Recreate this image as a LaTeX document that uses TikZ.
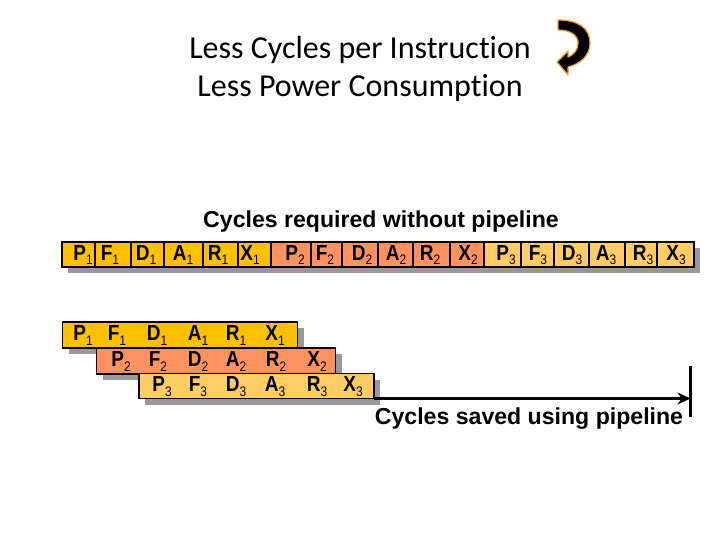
\documentclass[tikz,border=0pt]{standalone}
\usepackage{fontspec}
\setmainfont{Liberation Sans}
\newfontfamily\titlefont[Ligatures=NoCommon]{Carlito}
\usetikzlibrary{arrows.meta, positioning, calc, shadows}
\definecolor{stageone}{RGB}{255, 192, 0}
\definecolor{stagetwo}{RGB}{255, 146, 94}
\definecolor{stagethree}{RGB}{255, 204, 102}
\definecolor{shadowgray}{RGB}{153, 153, 153}
\definecolor{arroworange}{RGB}{240, 160, 40}
\newcommand{\stagelabel}[2]{#1\raisebox{-4pt}{\fontsize{12}{12}\selectfont\mdseries #2}}
\tikzset{
    titletext/.style={font=\titlefont\fontsize{32}{36}\selectfont, inner sep=0pt},
    headtext/.style={font=\bfseries\fontsize{23.1}{27}\selectfont, inner sep=0pt},
    stagetext/.style={font=\bfseries\fontsize{19}{21}\selectfont, inner sep=0pt, yscale=1.15},
    rowbox/.style={rectangle, draw=black, line width=1.6pt, inner sep=0pt, outer sep=0pt, anchor=north west, drop shadow={shadow xshift=6pt, shadow yshift=-6pt, fill=shadowgray, opacity=1}},
    cellbox/.style={draw=black, line width=1.6pt},
    line/.style={draw, -{Stealth[length=13pt, width=12pt]}, black, line width=2.2pt}
}
\begin{document}
\begin{tikzpicture}[x=1pt, y=-1pt]
    \useasboundingbox (0,0) rectangle (720,540);
    % Title and turn arrow
    \node[titletext] (titleone) at (360,49.5) {Less Cycles per Instruction};
    \node[titletext] (titletwo) at (360,88.5) {Less Power Consumption};
    \draw[fill=black, draw=arroworange, line width=1.2pt, line join=round] (558,20) .. controls (578,20) and (590,28) .. (590,43) .. controls (590,56) and (580,64) .. (568,67) -- (568,75) -- (557,62) -- (568,51) -- (568,57) .. controls (575,54) and (578,49) .. (578,43) .. controls (578,35) and (570,30) .. (558,30) -- cycle;
    
    % Sequential execution
    \node[headtext] (headtop) at (381,222) {Cycles required without pipeline};
    \node[rowbox, minimum width=632pt, minimum height=25pt, fill=stageone] (rowall) at (62,242) {};
    \foreach \nm/\sb/\lft/\rgt/\mid/\col in {
        P/1/62/95/83/stageone, F/1/95/131/110/stageone, D/1/131/164/146/stageone, A/1/164/203/183/stageone, R/1/203/238/218/stageone, X/1/238/271/250/stageone,
        P/2/271/311/295/stagetwo, F/2/311/342/325/stagetwo, D/2/342/378/362/stagetwo, A/2/378/413/396/stagetwo, R/2/413/450/430/stagetwo, X/2/450/484/468/stagetwo,
        P/3/484/521/506/stagethree, F/3/521/554/538/stagethree, D/3/554/589/572/stagethree, A/3/589/625/606/stagethree, R/3/625/657/643/stagethree, X/3/657/694/676/stagethree} {
        \draw[cellbox, fill=\col] (\lft,242) rectangle (\rgt,267);
        \node[stagetext] (top\nm\sb) at (\mid,255) {\stagelabel{\nm}{\sb}};
    }
    
    % Pipelined execution
    \node[rowbox, minimum width=235pt, minimum height=26pt, fill=stageone] (rowa) at (62.5,322) {};
    \node[rowbox, minimum width=239pt, minimum height=26pt, fill=stagetwo] (rowb) at (96.5,348) {};
    \node[rowbox, minimum width=235pt, minimum height=25pt, fill=stagethree] (rowc) at (139,373.5) {};
    \foreach \nm/\posa/\posb/\posc in {P/83/121/162, F/117/158/198, D/157/198/236, A/198/236/275, R/236/276/317, X/275/317/353} {
        \node[stagetext] (a\nm) at (\posa,335.5) {\stagelabel{\nm}{1}};
        \node[stagetext] (b\nm) at (\posb,361.5) {\stagelabel{\nm}{2}};
        \node[stagetext] (c\nm) at (\posc,386.5) {\stagelabel{\nm}{3}};
    }
    
    % Saved cycles marker
    \coordinate (stoptop) at (690.5,366);
    \coordinate (stopbot) at (690.5,417);
    \draw[black, line width=2.2pt] (stoptop) -- (stopbot);
    \path[line] (rowc.south east) -- (rowc.south east -| stoptop);
    \node[headtext] (headsaved) at (529,419) {Cycles saved using pipeline};
\end{tikzpicture}
\end{document}
